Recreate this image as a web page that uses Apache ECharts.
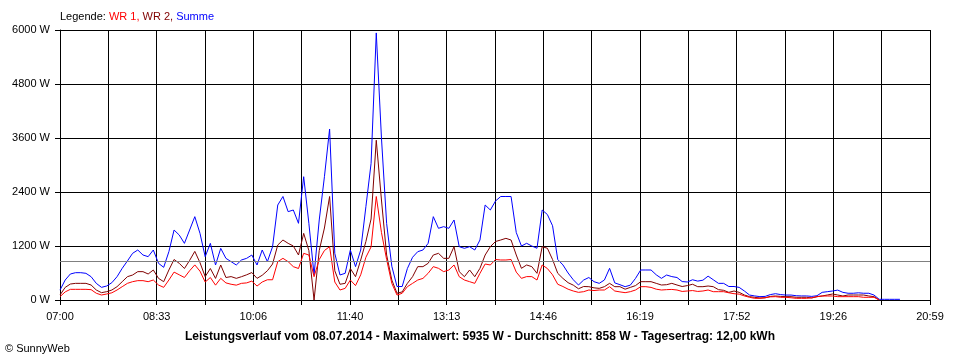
<!DOCTYPE html>
<html><head><meta charset="utf-8">
<script src="https://cdn.jsdelivr.net/npm/echarts@6/dist/echarts.min.js"></script>
<style>html,body{margin:0;padding:0;background:#fff}#c{width:960px;height:360px}</style>
</head><body><div id="c"></div>
<script>
// ---- data ----
const SPAN_MIN = 839;          // 07:00 .. 20:59
const GRID_DIVS = 18;          // vertical grid divisions
const STEP_MIN = 5;            // sample spacing (minutes from 07:00)
const TICK_LABELS = ["07:00","08:33","10:06","11:40","13:13","14:46","16:19","17:52","19:26","20:59"];
const Y_MAX = 6000, Y_STEP = 1200;
const AVG_W = 858, MAX_W = 5935, DAY = "08.07.2014", DAY_YIELD = "12,00";

const SUMME = [220,444,578,607,607,593,518,370,281,311,385,518,704,867,1037,1111,1000,963,1111,815,
726,1074,1555,1444,1259,1555,1852,1481,963,1259,778,1148,926,852,778,889,926,1000,778,1111,
852,1185,2111,2300,1963,2000,1704,2740,1704,560,1778,2740,3800,1037,556,593,1111,741,1111,2074,
3037,5935,3600,1700,750,300,300,700,950,1074,1111,1259,1852,1593,1630,1593,1778,1185,1148,1185,
1111,1333,2111,2000,2200,2300,2300,2300,1500,1200,1260,1200,1150,2000,1900,1650,900,780,600,450,
333,444,500,407,370,444,704,380,340,296,330,480,667,667,667,560,481,555,520,500,
410,400,450,420,440,530,450,370,370,300,300,280,200,110,90,75,80,120,140,120,
110,110,95,90,90,80,95,170,185,200,220,170,150,150,160,150,150,110,15,15,
15,15,15];
const WR2 = [111,280,355,370,370,370,333,222,163,185,222,296,407,518,555,630,630,578,667,481,
407,667,900,815,700,880,1080,830,520,700,480,778,500,520,481,518,560,610,481,550,
650,800,1222,1333,1259,1200,1000,1481,1100,0,1100,1600,2300,650,350,370,700,518,889,1300,
1800,3550,2222,1000,444,150,180,370,518,741,741,815,1000,1037,926,926,1185,630,518,667,
518,704,1000,1185,1300,1333,1370,1333,1000,704,778,741,593,1185,1150,900,593,480,385,330,
250,300,296,270,259,296,370,296,296,240,280,320,407,407,407,370,333,340,370,333,
300,320,350,296,296,311,296,230,215,170,200,170,111,74,59,45,50,80,89,80,
74,74,60,60,60,45,74,89,111,133,111,89,111,111,111,111,89,74,0];
const WR1 = [74,180,237,237,237,237,230,150,111,133,160,222,296,370,407,430,430,407,444,333,
281,444,620,560,500,650,780,640,400,500,330,481,380,350,330,370,380,420,310,400,
450,450,852,926,852,741,700,1037,1000,518,900,1100,1185,400,222,259,444,320,560,950,
1180,2300,1500,900,370,110,150,296,370,444,480,593,741,704,630,667,778,518,444,407,
370,593,800,778,900,889,889,900,620,481,520,520,444,778,700,560,350,300,240,200,
170,185,222,210,222,222,296,200,180,163,185,222,296,296,280,240,222,230,235,222,
190,200,210,190,200,222,185,185,185,160,140,130,90,60,37,37,50,70,74,60,
60,50,37,37,37,50,74,89,89,89,74,74,74,74,74,60,60,60,0];

// ---- chart ----
const MIN_PER_DIV = SPAN_MIN / GRID_DIVS;
const toPts = arr => arr.map((v, i) => [i * STEP_MIN / MIN_PER_DIV, v]);
const FONT = "'Liberation Sans', Arial, sans-serif";

const chart = echarts.init(document.getElementById('c'), null, {renderer: 'canvas'});
chart.setOption({
  animation: false,
  backgroundColor: '#ffffff',
  title: [
    {
      text: '{k|Legende: }{a|WR 1, }{b|WR 2, }{c|Summe}',
      left: 60, top: 11, padding: 0,
      textStyle: {
        fontFamily: FONT, fontSize: 11, fontWeight: 'normal',
        rich: {
          k: {color: '#000000', fontFamily: FONT, fontSize: 11},
          a: {color: '#ff0000', fontFamily: FONT, fontSize: 11},
          b: {color: '#800000', fontFamily: FONT, fontSize: 11},
          c: {color: '#0000ff', fontFamily: FONT, fontSize: 11}
        }
      }
    },
    {
      text: 'Leistungsverlauf vom ' + DAY + ' - Maximalwert: ' + MAX_W + ' W - Durchschnitt: ' + AVG_W +
            ' W - Tagesertrag: ' + DAY_YIELD + ' kWh',
      left: 'center', top: 331, padding: 0,
      textStyle: {fontFamily: FONT, fontSize: 12, fontWeight: 'bold', color: '#000000'}
    },
    {
      text: '© SunnyWeb',
      left: 5, top: 343, padding: 0,
      textStyle: {fontFamily: FONT, fontSize: 11, fontWeight: 'normal', color: '#000000'}
    }
  ],
  grid: {left: 60, right: 30, top: 30, bottom: 60, containLabel: false},
  xAxis: {
    type: 'value', min: 0, max: GRID_DIVS, interval: 1,
    axisLine: {show: true, lineStyle: {color: '#000000', width: 1}},
    axisTick: {show: true, length: 5, lineStyle: {color: '#000000'}},
    splitLine: {show: true, lineStyle: {color: '#000000', width: 1}},
    axisLabel: {
      show: true, margin: 11, color: '#000000', fontFamily: FONT, fontSize: 11,
      showMinLabel: true, showMaxLabel: true, hideOverlap: false,
      formatter: v => { const k = Math.round(v); return k % 2 === 0 ? TICK_LABELS[k / 2] : ''; }
    }
  },
  yAxis: {
    type: 'value', min: 0, max: Y_MAX, interval: Y_STEP,
    axisLine: {show: true, lineStyle: {color: '#000000', width: 1}},
    axisTick: {show: true, length: 5, lineStyle: {color: '#000000'}},
    splitLine: {show: true, lineStyle: {color: '#000000', width: 1}},
    axisLabel: {show: true, margin: 10, color: '#000000', fontFamily: FONT, fontSize: 11,
      formatter: v => String(v) + ' W'}
  },
  series: [
    {
      name: 'Summe', type: 'line', data: toPts(SUMME), showSymbol: false, symbol: 'none',
      lineStyle: {color: '#0000ff', width: 1}, z: 2,
      markLine: {
        silent: true, symbol: 'none', label: {show: false},
        lineStyle: {color: '#808080', width: 1, type: 'solid'},
        data: [{yAxis: AVG_W}]
      }
    },
    {name: 'WR 2', type: 'line', data: toPts(WR2), showSymbol: false, symbol: 'none',
      lineStyle: {color: '#800000', width: 1}, z: 3},
    {name: 'WR 1', type: 'line', data: toPts(WR1), showSymbol: false, symbol: 'none',
      lineStyle: {color: '#ff0000', width: 1}, z: 4}
  ]
});
</script>
</body></html>
